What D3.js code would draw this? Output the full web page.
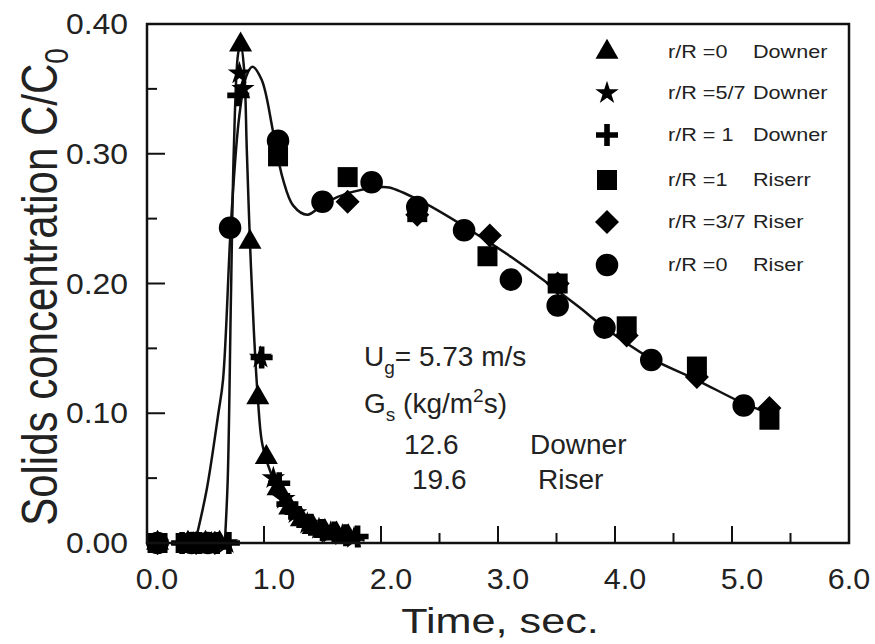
<!DOCTYPE html>
<html>
<head>
<meta charset="utf-8">
<script src="https://cdn.jsdelivr.net/npm/d3@7"></script>
<style>
  body { margin: 0; background: #fff; }
  text { font-family: "Liberation Sans", Arial, sans-serif; fill: #222; }
</style>
</head>
<body>
<svg width="875" height="644"></svg>
<script>
// fitted curves
const riserFitT = [0.41, 0.51, 0.61, 0.65, 0.72, 0.79, 0.85, 0.90, 0.98, 1.08, 1.16, 1.25, 1.37, 1.52, 1.73, 1.96, 2.07, 2.33, 2.73, 3.12, 3.69, 3.91, 4.29, 4.69, 5.09, 5.32];
const riserFitC = [0.0, 0.041, 0.100, 0.126, 0.25, 0.33, 0.36, 0.367, 0.357, 0.316, 0.281, 0.260, 0.253, 0.262, 0.270, 0.274, 0.274, 0.264, 0.243, 0.220, 0.182, 0.166, 0.143, 0.126, 0.108, 0.100];
const downerFitT = [0.665, 0.69, 0.717, 0.742, 0.777, 0.80, 0.83, 0.853, 0.88, 0.913, 0.947, 0.98, 1.02, 1.075, 1.16, 1.33, 1.56, 1.86];
const downerFitC = [0.0, 0.049, 0.187, 0.303, 0.376, 0.385, 0.365, 0.303, 0.232, 0.164, 0.112, 0.079, 0.064, 0.050, 0.031, 0.015, 0.008, 0.002];

// measured points
const triT = [0.09, 0.35, 0.50, 0.62, 0.80, 0.88, 0.947, 1.02, 1.12, 1.22, 1.32, 1.42, 1.52, 1.62, 1.72];
const triC = [0, 0, 0, 0, 0.384, 0.232, 0.112, 0.066, 0.042, 0.027, 0.018, 0.012, 0.009, 0.007, 0.005];
const starT = [0.09, 0.40, 0.55, 0.68, 0.79, 0.82, 0.97, 1.08, 1.17, 1.27, 1.37, 1.47, 1.57, 1.67, 1.77];
const starC = [0, 0, 0, 0, 0.362, 0.35, 0.143, 0.05, 0.034, 0.023, 0.015, 0.011, 0.008, 0.006, 0.004];
const crossT = [0.09, 0.30, 0.45, 0.60, 0.70, 0.78, 0.98, 1.13, 1.20, 1.30, 1.40, 1.50, 1.60, 1.70, 1.80];
const crossC = [0, 0, 0, 0, 0, 0.345, 0.143, 0.046, 0.030, 0.020, 0.014, 0.010, 0.008, 0.006, 0.005];
const sqT = [0.09, 0.33, 0.48, 1.12, 1.715, 2.31, 2.91, 3.51, 4.10, 4.70, 5.32];
const sqC = [0, 0, 0, 0.298, 0.282, 0.255, 0.221, 0.200, 0.167, 0.136, 0.095];
const diaT = [0.09, 0.42, 0.58, 1.715, 2.31, 2.93, 3.51, 4.10, 4.70, 5.32];
const diaC = [0, 0, 0, 0.263, 0.253, 0.237, 0.200, 0.160, 0.128, 0.104];
const circT = [0.09, 0.38, 0.52, 0.71, 1.12, 1.50, 1.92, 2.31, 2.71, 3.11, 3.51, 3.91, 4.31, 5.10];
const circC = [0, 0, 0, 0.243, 0.31, 0.263, 0.278, 0.259, 0.241, 0.203, 0.183, 0.166, 0.141, 0.106];

const xMajor = [0, 1, 2, 3, 4, 5, 6];
const xMinor = [0.5, 1.5, 2.5, 3.5, 4.5, 5.5];
const yMajor = [0, 0.1, 0.2, 0.3, 0.4];
const yMinor = [0.05, 0.15, 0.25, 0.35];

const legendLabels = [["r/R =0", "Downer"], ["r/R =5/7", "Downer"], ["r/R = 1", "Downer"],
                      ["r/R =1", "Riserr"], ["r/R =3/7", "Riser"], ["r/R =0", "Riser"]];

let svg = d3.select("svg");
let x = d3.scaleLinear().domain([0, 6]).range([147, 849]);
let y = d3.scaleLinear().domain([0, 0.4]).range([543, 24]);

// symbols
let shapes = {
  tri: d3.symbol().type(d3.symbolTriangle).size(230)(),
  star: d3.symbol().type(d3.symbolStar).size(170)(),
  sq: "M-10,-10H10V10H-10Z",
  dia: "M0,-12L12,0L0,12L-12,0Z",
  circ: d3.symbol().type(d3.symbolCircle).size(400)(),
  cross: "M-2.8,-11H2.8V-2.8H11V2.8H2.8V11H-2.8V2.8H-11V-2.8H-2.8Z"
};

// axes: ticks inward
function tickLines(g, vals, len, orient) {
  g.selectAll(null).data(vals).enter().append("line")
    .attr("x1", d => orient === "x" ? x(d) : x(0))
    .attr("x2", d => orient === "x" ? x(d) : x(0) + len)
    .attr("y1", d => orient === "x" ? y(0) : y(d))
    .attr("y2", d => orient === "x" ? y(0) - len : y(d))
    .attr("stroke", "#111").attr("stroke-width", 2);
}
let axes = svg.append("g");
tickLines(axes, xMajor, 17, "x");
tickLines(axes, xMinor, 10, "x");
tickLines(axes, yMajor, 18, "y");
tickLines(axes, yMinor, 10, "y");

axes.selectAll(".xl").data(xMajor).enter().append("text")
  .attr("transform", d => "translate(" + (x(d) + (d === 6 ? 0 : 10)) + ",589) scale(1.05,1)")
  .attr("text-anchor", "middle").attr("font-size", 29)
  .text(d3.format(".1f"));
axes.selectAll(".yl").data(yMajor).enter().append("text")
  .attr("transform", d => "translate(128," + (y(d) + 10) + ") scale(1.1,1)")
  .attr("text-anchor", "end").attr("font-size", 29)
  .text(d3.format(".2f"));

axes.append("text")
  .attr("transform", "translate(500,633) scale(1.2,1)")
  .attr("text-anchor", "middle").attr("font-size", 36)
  .text("Time, sec.");
let yt = axes.append("text")
  .attr("transform", "translate(57,287) scale(1.2,1) rotate(-90)")
  .attr("text-anchor", "middle").attr("font-size", 42);
yt.append("tspan").text("Solids concentration C/C");
yt.append("tspan").attr("font-size", 28).attr("dy", 9).text("0");

// fitted lines
let line = d3.line().x(d => x(d[0])).y(d => y(d[1])).curve(d3.curveCatmullRom.alpha(0.5));
svg.append("path").datum(d3.zip(riserFitT, riserFitC)).attr("d", line)
  .attr("fill", "none").attr("stroke", "#111").attr("stroke-width", 2.5);
svg.append("path").datum(d3.zip(downerFitT, downerFitC)).attr("d", line)
  .attr("fill", "none").attr("stroke", "#111").attr("stroke-width", 2.5);

// points
function drawPoints(ts, cs, shape) {
  svg.append("g").selectAll("path").data(d3.zip(ts, cs)).enter().append("path")
    .attr("d", shapes[shape])
    .attr("transform", d => "translate(" + x(d[0]) + "," + y(d[1]) + ")")
    .attr("fill", "#000");
}
drawPoints(sqT, sqC, "sq");
drawPoints(diaT, diaC, "dia");
drawPoints(circT, circC, "circ");
drawPoints(crossT, crossC, "cross");
drawPoints(starT, starC, "star");
drawPoints(triT, triC, "tri");

// frame
svg.append("rect").attr("x", 147).attr("y", 24).attr("width", 702).attr("height", 519)
  .attr("fill", "none").attr("stroke", "#111").attr("stroke-width", 2.5);

// legend
let legShapes = ["tri", "star", "cross", "sq", "dia", "circ"];
let legY = [52, 93, 135, 180, 222, 265];
let leg = svg.append("g");
legShapes.forEach(function (s, i) {
  leg.append("path").attr("d", shapes[s])
    .attr("transform", "translate(607," + legY[i] + ")").attr("fill", "#000");
  leg.append("text").attr("transform", "translate(668," + (legY[i] + 6) + ") scale(1.2,1)")
    .attr("font-size", 18).text(legendLabels[i][0]);
  leg.append("text").attr("transform", "translate(753," + (legY[i] + 6) + ") scale(1.2,1)")
    .attr("font-size", 18).text(legendLabels[i][1]);
});

// annotation
let ann = svg.append("g").attr("font-size", 28);
let t1 = ann.append("text").attr("x", 364).attr("y", 366);
t1.append("tspan").text("U");
t1.append("tspan").attr("font-size", 19).attr("dy", 8).text("g");
t1.append("tspan").attr("dy", -8).text("= 5.73 m/s");
let t2 = ann.append("text").attr("x", 364).attr("y", 413);
t2.append("tspan").text("G");
t2.append("tspan").attr("font-size", 19).attr("dy", 8).text("s");
t2.append("tspan").attr("dy", -8).text(" (kg/m");
t2.append("tspan").attr("font-size", 19).attr("dy", -11).text("2");
t2.append("tspan").attr("dy", 11).text("s)");
ann.append("text").attr("x", 404).attr("y", 454).text("12.6");
ann.append("text").attr("x", 530).attr("y", 454).text("Downer");
ann.append("text").attr("x", 412).attr("y", 489).text("19.6");
ann.append("text").attr("x", 538).attr("y", 489).text("Riser");
</script>
</body>
</html>
